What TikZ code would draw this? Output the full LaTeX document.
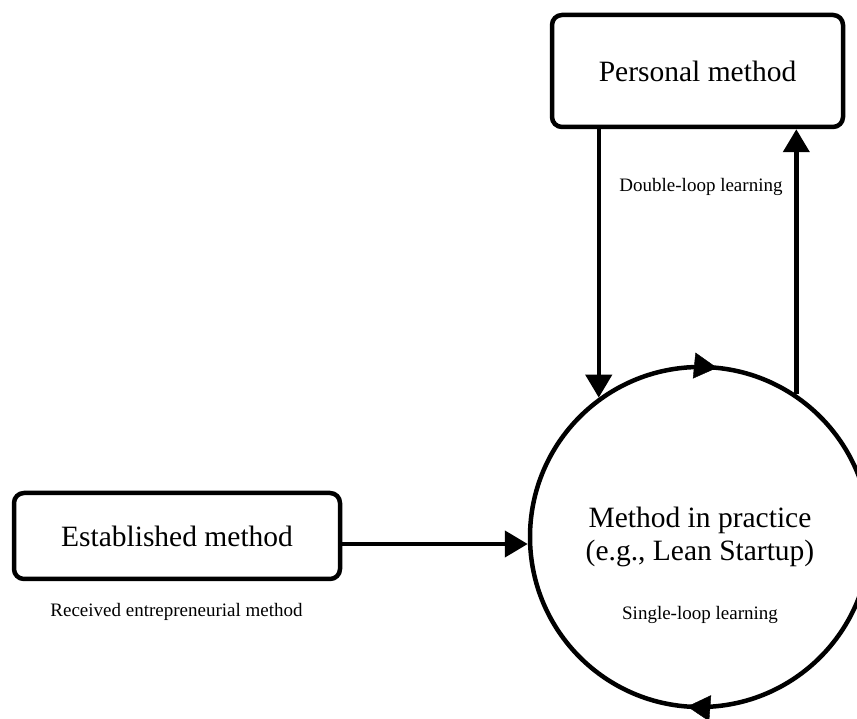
\documentclass[tikz,border=0pt]{standalone}
\usepackage{fontspec}
\setmainfont{Liberation Serif}
\usetikzlibrary{arrows.meta,decorations.markings}
\tikzset{
  boxnode/.style={draw, line width=4.5pt, rounded corners=10pt, inner sep=0pt,
    font=\fontsize{29.5}{33}\selectfont},
  loopnode/.style={circle, draw, line width=4.5pt, minimum size=340pt, inner sep=0pt,
    align=center, font=\fontsize{29.5}{33}\selectfont},
  smalltext/.style={anchor=base, inner sep=0pt, font=\fontsize{19}{22}\selectfont},
  conn/.style={line width=4.5pt, -{Triangle[length=23pt,width=26pt]}},
}
\begin{document}
\begin{tikzpicture}[x=1pt,y=1pt]
\clip (0,0) rectangle (857,718);
\fill[white] (0,0) rectangle (857,718);

\node[boxnode, minimum width=291pt, minimum height=112pt] (p) at (697.5,647) {Personal method};
\node[boxnode, minimum width=326pt, minimum height=86pt] (e) at (177,182) {Established method};
\node[loopnode] (c) at (700,181) {Method in practice\\(e.g., Lean Startup)};

\node[smalltext] (rl) at (176.5,102) {Received entrepreneurial method};
\node[smalltext] (dl) at (701,526) {Double-loop learning};
\node[smalltext] (sl) at (700,99) {Single-loop learning};

\path[decoration={markings,
    mark=at position 0.234 with {\arrowreversed{Triangle[length=23pt,width=26pt]}},
    mark=at position 0.738 with {\arrowreversed{Triangle[length=23pt,width=26pt]}}},
  decorate] (c.center) circle (170pt);

\draw[conn] ([yshift=-8pt]e.east) -- ([yshift=-8pt]e.east -| c.west);
\draw[conn] (p.south -| c.126.4) -- (c.126.4);
\draw[conn] (c.56.5) -- (p.south -| c.56.5);
\end{tikzpicture}
\end{document}
